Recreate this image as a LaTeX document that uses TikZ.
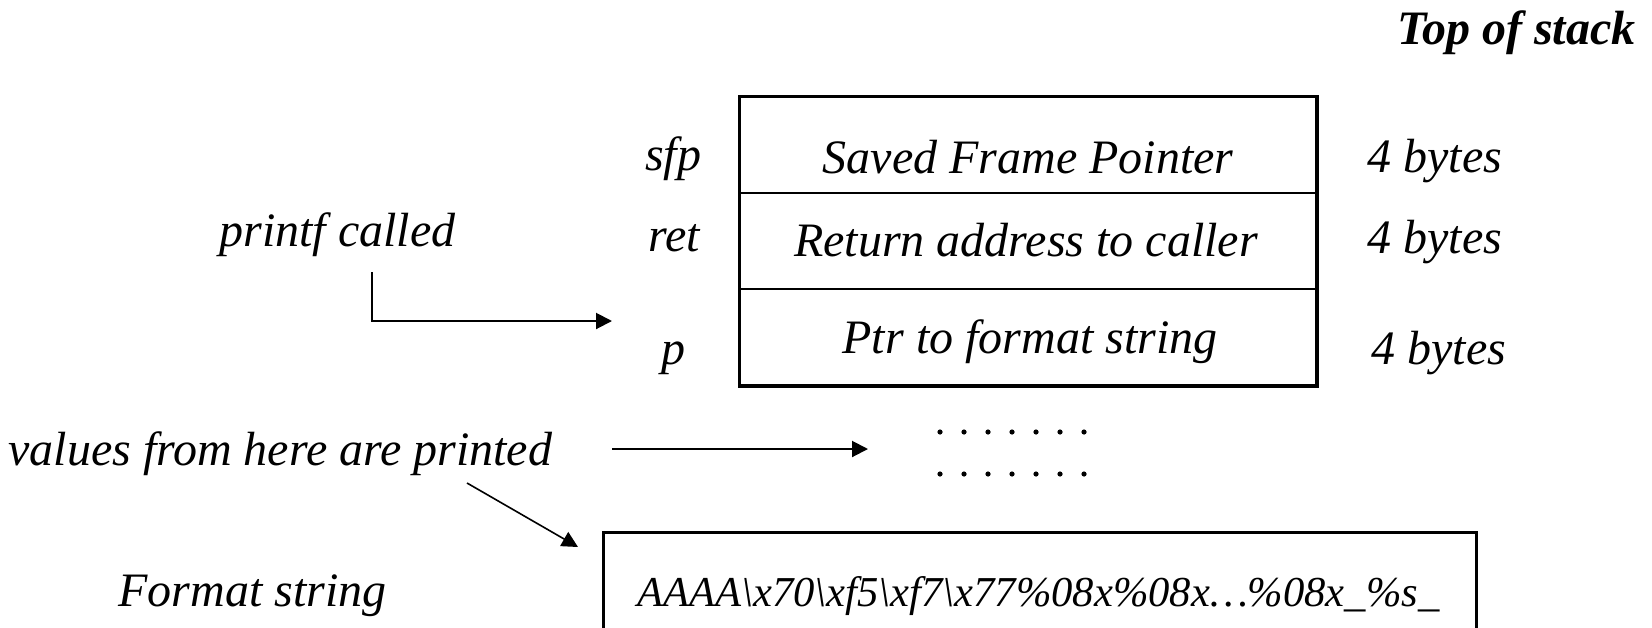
\documentclass[tikz,border=0pt]{standalone}
\usepackage{fontspec}
\setmainfont{Liberation Serif}
\usetikzlibrary{arrows.meta}

\tikzset{
  lbl/.style={font=\fontsize{24}{28}\selectfont\itshape, inner sep=0pt, anchor=base},
  lblw/.style={lbl, anchor=base west},
  hdr/.style={font=\fontsize{24}{28}\selectfont\bfseries\itshape, inner sep=0pt, anchor=base east},
  fmt/.style={font=\fontsize{21.3}{26}\selectfont\itshape, inner sep=0pt, anchor=base west},
  cell/.style={draw, line width=1pt, minimum width=288pt, minimum height=48pt, inner sep=0pt},
  frame/.style={draw, line width=1.5pt},
  arr/.style={line width=1pt, -{Triangle[length=8pt,width=8pt]}},
  thinarr/.style={line width=0.8pt, -{Triangle[length=8pt,width=8pt]}},
  dotmark/.style={circle, fill, inner sep=0pt, minimum size=2.6pt},
}

\begin{document}
\begin{tikzpicture}[x=0.5pt, y=-0.5pt]
  \clip (0,0) rectangle (1652,627);
  \useasboundingbox (0,0) rectangle (1652,627);

  % heading
  \node[hdr] (top) at (1636,44) {Top of stack};

  % stack frame cells
  \node[cell] (r1) at (1028,145) {};
  \node[cell] (r2) at (1028,241) {};
  \node[cell] (r3) at (1028,337) {};
  \draw[frame] (r1.north west) rectangle (r3.south east);

  \node[lbl] (t1) at (1028,173) {Saved Frame Pointer};
  \node[lbl] (t2) at (1026,256) {Return address to caller};
  \node[lbl] (t3) at (1030,353) {Ptr to format string};

  % register names on the left
  \node[lbl] (sfp) at (673,170) {sfp};
  \node[lbl] (ret) at (674,251) {ret};
  \node[lbl] (p)   at (673,364) {p};

  % sizes on the right
  \node[lblw] (b1) at (1367,172) {4 bytes};
  \node[lblw] (b2) at (1367,253) {4 bytes};
  \node[lblw] (b3) at (1371,364) {4 bytes};

  % call annotation
  \node[lblw] (call) at (219,246) {printf called};
  \coordinate (callstart) at (372,272);
  \coordinate (callend) at (612,321);
  \draw[arr] (callstart) |- (callend);

  % values annotation
  \node[lblw] (vals) at (8,465) {values from here are printed};
  \coordinate (valstart) at (612,449);
  \coordinate (valend) at (868,449);
  \draw[arr] (valstart) -- (valend);

  % ellipsis dots between frame and buffer
  \foreach \i in {0,...,6} {
    \node[dotmark] (da\i) at (940+24*\i,432) {};
    \node[dotmark] (db\i) at (940+24*\i,474) {};
  }

  % format string buffer
  \node[lblw] (fmtlbl) at (118,606) {Format string};
  \draw[frame] (603,532) rectangle (1476,660);
  \node[fmt] (fmtstr) at (637,606) {AAAA\textbackslash x70\textbackslash xf5\textbackslash xf7\textbackslash x77\%08x\%08x\ldots\%08x\_\%s\_};
  \coordinate (diagstart) at (467,483);
  \coordinate (diagend) at (578,547);
  \draw[thinarr] (diagstart) -- (diagend);
\end{tikzpicture}
\end{document}
